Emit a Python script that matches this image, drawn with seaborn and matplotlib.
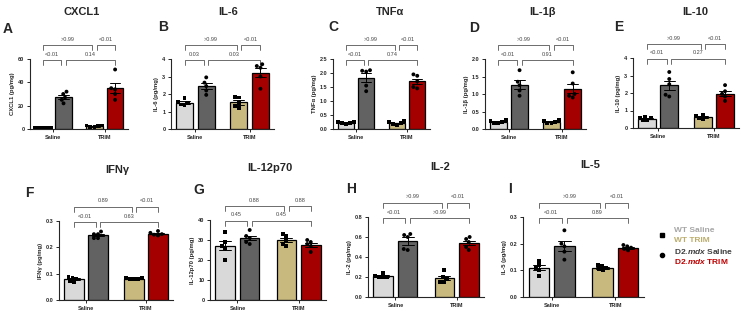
import numpy as np
import pandas as pd
import matplotlib
matplotlib.use("Agg")
import matplotlib.pyplot as plt
import seaborn as sns

# Cytokine panels (A-I)
cytokines = ["CXCL1", "IL-6", "TNFα", "IL-1β", "IL-10", "IFNγ", "IL-12p70", "IL-2", "IL-5"]
letters = ["A", "B", "C", "D", "E", "F", "G", "H", "I"]
treatments = ["Saline", "TRIM"]
genotypes = ["WT", "D2.mdx"]

# individual animals (pg/mg)
wt_saline = [
    [1.0, 1.0, 1.0, 1.0, 1.0],
    [1.75, 1.55, 1.5, 1.4, 1.35],
    [0.26, 0.24, 0.22, 0.2, 0.18],
    [0.25, 0.22, 0.2, 0.18, 0.16],
    [0.65, 0.6, 0.55, 0.45, 0.45],
    [0.088, 0.085, 0.08, 0.072, 0.068],
    [34, 29, 27, 26, 20],
    [0.24, 0.21, 0.2, 0.2, 0.2],
    [0.135, 0.12, 0.11, 0.1, 0.08],
]
d2_saline = [
    [32, 30, 27, 25, 22],
    [2.95, 2.65, 2.45, 2.2, 1.95],
    [2.1, 2.08, 2.05, 1.55, 1.35],
    [1.68, 1.35, 1.25, 1.1, 0.95],
    [3.2, 2.8, 2.5, 1.9, 1.8],
    [0.26, 0.25, 0.25, 0.235, 0.235],
    [35, 32, 31, 29, 28],
    [0.63, 0.62, 0.6, 0.48, 0.47],
    [0.25, 0.2, 0.19, 0.17, 0.14],
]
wt_trim = [
    [2.0, 3.0, 3.0, 2.5, 1.5],
    [1.85, 1.8, 1.5, 1.3, 1.2],
    [0.27, 0.25, 0.2, 0.17, 0.15],
    [0.26, 0.22, 0.2, 0.18, 0.16],
    [0.75, 0.7, 0.6, 0.55, 0.5],
    [0.082, 0.082, 0.081, 0.080, 0.079],
    [33, 32, 30, 28, 27],
    [0.27, 0.2, 0.15, 0.15, 0.18],
    [0.12, 0.115, 0.11, 0.105, 0.1],
]
d2_trim = [
    [51, 35, 34, 30, 25],
    [3.7, 3.6, 3.5, 3.0, 2.3],
    [1.95, 1.9, 1.7, 1.5, 1.45],
    [1.62, 1.3, 1.0, 0.95, 0.9],
    [2.45, 2.1, 1.95, 1.8, 1.55],
    [0.262, 0.255, 0.25, 0.248, 0.245],
    [30, 29, 28, 27, 24],
    [0.6, 0.58, 0.55, 0.5, 0.47],
    [0.195, 0.19, 0.185, 0.18, 0.175],
]
y_max = [60, 4, 2.5, 2.0, 4, 0.3, 40, 0.8, 0.3]
y_step = [20, 1, 0.5, 0.5, 1, 0.1, 10, 0.2, 0.1]
p_lower = [("<0.01", "0.14"), ("0.03", "0.03"), ("<0.01", "0.74"), ("<0.01", "0.91"),
           ("<0.01", "0.27"), ("<0.01", "0.63"), ("0.45", "0.45"), ("<0.01", ">0.99"),
           ("<0.01", "0.89")]
p_upper = [(">0.99", "<0.01"), (">0.99", "<0.01"), (">0.99", "<0.01"), (">0.99", "<0.01"),
           (">0.99", "<0.01"), ("0.89", "<0.01"), ("0.88", "0.88"), (">0.99", "<0.01"),
           (">0.99", "<0.01")]

bar_colors = {("Saline", "WT"): "#d9d9d9", ("Saline", "D2.mdx"): "#626262",
              ("TRIM", "WT"): "#c8b97e", ("TRIM", "D2.mdx"): "#a50000"}

# layout in pixels: left, top, width, height
W, H = 745, 314
rects = [(30, 59, 98, 70), (171, 59, 103, 70), (333, 59, 97, 70), (485, 59, 101, 70),
         (633, 58, 106, 70), (59, 221, 114, 79), (210, 220, 116, 80), (368, 217, 116, 80),
         (523, 217, 121, 80)]
title_pos = [(82, 12), (228, 12), (390, 12), (542, 12), (695, 12),
             (117, 170), (270, 168), (440, 167), (590, 165)]
letter_pos = [(8, 29), (163, 27), (333, 27), (474, 28), (619, 27),
              (29, 193), (199, 190), (351, 189), (510, 189)]

sns.set_style("ticks")
plt.rcParams["font.family"] = ["Liberation Sans", "DejaVu Sans"]
plt.rcParams["font.weight"] = "bold"
plt.rcParams["mathtext.fontset"] = "custom"
plt.rcParams["mathtext.bfit"] = "Liberation Sans:italic:bold"
plt.rcParams["mathtext.it"] = "Liberation Sans:italic:bold"

fig = plt.figure(figsize=(W / 100, H / 100), dpi=100)

def bracket(ax, x0, x1, y, tick, label, off):
    trans = ax.get_xaxis_transform()
    ax.plot([x0, x0, x1, x1], [y - tick, y, y, y - tick], transform=trans,
            clip_on=False, color="#555555", lw=0.6)
    ax.text((x0 + x1) / 2, y + off, label, transform=trans, ha="center", va="center",
            fontsize=4, fontweight="normal", color="#444444")

for i, name in enumerate(cytokines):
    rows = []
    for t, g, vals in [("Saline", "WT", wt_saline[i]), ("Saline", "D2.mdx", d2_saline[i]),
                       ("TRIM", "WT", wt_trim[i]), ("TRIM", "D2.mdx", d2_trim[i])]:
        for v in vals:
            rows.append({"treatment": t, "genotype": g, "value": v})
    df = pd.DataFrame(rows)

    l, t, w, h = rects[i]
    ax = fig.add_axes([l / W, 1 - (t + h) / H, w / W, h / H])

    sns.barplot(data=df, x="treatment", y="value", hue="genotype", order=treatments,
                hue_order=genotypes, errorbar="se", capsize=0.4, gap=0.2,
                edgecolor="black", linewidth=0.9, legend=False,
                err_kws={"color": "black", "linewidth": 0.7}, ax=ax)
    for p in ax.patches:
        cx = p.get_x() + p.get_width() / 2
        grp = int(round(cx))
        gen = "WT" if cx < grp else "D2.mdx"
        p.set_facecolor(bar_colors[(treatments[grp], gen)])

    for gen, mk in [("WT", "s"), ("D2.mdx", "o")]:
        sns.swarmplot(data=df[df.genotype == gen], x="treatment", y="value", hue="genotype",
                      order=treatments, hue_order=genotypes, dodge=True, marker=mk, size=2.8,
                      palette={"WT": "black", "D2.mdx": "black"}, legend=False, ax=ax,
                      zorder=5)

    ax.set_xlim(-0.45, 1.45)
    ax.set_ylim(0, y_max[i])
    ticks = np.arange(0, y_max[i] + y_step[i] / 2, y_step[i])
    ax.set_yticks(ticks)
    dec = 0 if y_step[i] >= 1 else 1
    ax.set_yticklabels([f"{v:.{dec}f}" for v in ticks])
    ax.set_xticks([0, 1])
    ax.set_xticklabels(treatments)
    ax.tick_params(axis="both", labelsize=4, length=2.5, width=0.7, pad=1.5)
    for lab in ax.get_xticklabels() + ax.get_yticklabels():
        lab.set_fontweight("bold")
    ax.set_xlabel("")
    ax.set_ylabel(f"{name} (pg/mg)", fontsize=4.2, fontweight="bold", labelpad=2)
    sns.despine(ax=ax)
    for s in ["left", "bottom"]:
        ax.spines[s].set_linewidth(0.8)

    gap = 0.04
    tick = 5 / h
    bracket(ax, -0.2, 0.2 - gap, 1 - 1 / h, tick, p_lower[i][0], 6 / h)
    bracket(ax, 0.2 + gap, 1.2, 1 - 1 / h, tick, p_lower[i][1], 6 / h)
    bracket(ax, -0.2, 0.8 - gap, 1 + 14 / h, tick, p_upper[i][0], 6 / h)
    bracket(ax, 0.8 + gap, 1.2, 1 + 14 / h, tick, p_upper[i][1], 6 / h)

    fig.text(title_pos[i][0] / W, 1 - title_pos[i][1] / H, name, ha="center", va="center",
             fontsize=8, fontweight="bold")
    fig.text(letter_pos[i][0] / W, 1 - letter_pos[i][1] / H, letters[i], ha="center",
             va="center", fontsize=10, fontweight="bold")

# legend
leg = fig.add_axes([0, 0, 1, 1])
leg.set_xlim(0, W)
leg.set_ylim(H, 0)
leg.axis("off")
leg.plot([662], [235], marker="s", color="black", markersize=3)
leg.plot([662], [255], marker="o", color="black", markersize=3)
leg.text(674, 231, "WT Saline", color="#a6a6a6", fontsize=6, fontweight="bold", va="center")
leg.text(674, 241, "WT TRIM", color="#bcad6c", fontsize=6, fontweight="bold", va="center")
leg.text(674, 251, "D2.$\\mathit{mdx}$ Saline", color="#404040", fontsize=6,
         fontweight="bold", va="center")
leg.text(674, 261, "D2.$\\mathit{mdx}$ TRIM", color="#c00000", fontsize=6,
         fontweight="bold", va="center")

fig.savefig("out.png", dpi=100)
